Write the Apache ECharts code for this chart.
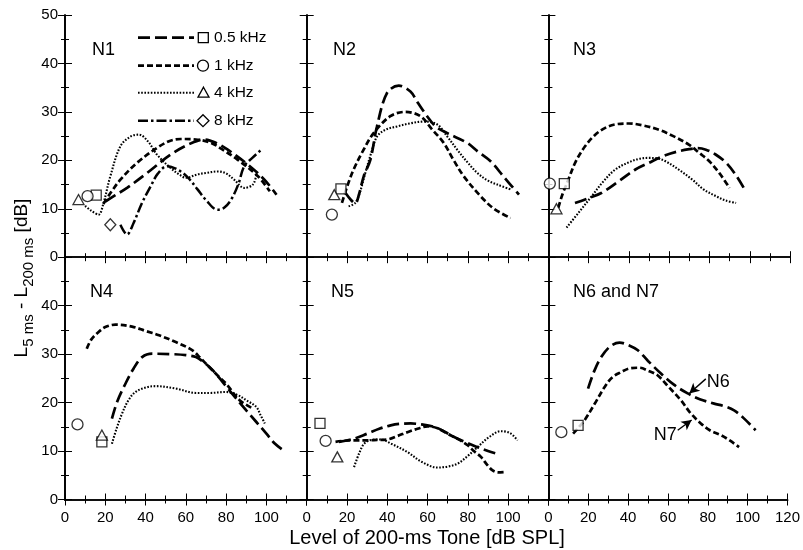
<!DOCTYPE html>
<html>
<head>
<meta charset="utf-8">
<script src="https://cdn.jsdelivr.net/npm/echarts@6/dist/echarts.min.js"></script>
<style>html,body{margin:0;padding:0;background:#fff}#c{width:803px;height:550px}</style>
</head>
<body>
<div id="c"></div>
<script>
// ---------- data ----------
const panelNames = ['N1', 'N2', 'N3', 'N4', 'N5', 'N6 and N7'];
const legendLabels = ['0.5 kHz', '1 kHz', '4 kHz', '8 kHz'];
const xTickMax = 120;
const yTickMax = 50;

// N1
const n1_05k = [[20,11.5],[25,12.8],[30.8,14.3],[40.8,17.4],[52.5,21.2],[62.5,23.5],[69,24.3],[75,23.6],[80.8,22.2],[90.8,19.1],[99,16],[105,12.9]];
const n1_1k = [[19,11],[23,13.5],[27.5,16],[35.8,19.5],[45.8,22.6],[52,24],[57.5,24.4],[65,24.3],[72.5,23.6],[79,22],[85.8,20.1],[95.8,16.7],[101.7,13.6]];
const n1_4k = [[10,10.6],[13,9.6],[16.7,8.8],[19,11],[22.5,16.7],[27.5,22.9],[32.5,24.9],[36.7,25.3],[41,24],[46,21],[52.5,18.4],[57,17],[60,16.4],[65.8,17.1],[70,17.4],[75.8,17.7],[80,17.3],[84,16],[89,14.3],[93.3,15],[95,17]];
const n1_8k = [[27.5,6.7],[30.8,4.7],[34,7],[38,11],[42.5,14.6],[46,17.2],[50.8,18.8],[57.5,17.7],[62,16],[65.8,14],[70,11.8],[75.8,9.8],[79,10.2],[82.5,11.9],[86,15],[89,18.8],[93,20.5],[97.5,22.2]];
const n1_mk05 = [[15.5,12.8]], n1_mk1 = [[11.2,12.6]], n1_mk4 = [[6.7,11.9]], n1_mk8 = [[22.5,6.7]];

// N2
const n2_05k = [[19.2,13.3],[22,11.8],[24.1,11.1],[26,13],[28.3,16.7],[31.6,20.1],[34.9,27],[39.9,33.9],[45.7,35.4],[51.5,34.2],[55,32],[59.8,29.1],[64,27],[69.8,25.6],[79.7,23.6],[85,21.8],[91.3,19.8],[98,16.5],[105.4,12.9]];
const n2_1k = [[17.5,11.2],[20,14.5],[23.3,18.1],[28,22],[33.2,25.6],[41.5,29.1],[49,30],[56.5,29.1],[62,26.5],[68,23.6],[73,20],[78,16.7],[86.3,12.6],[93,10],[101.2,8.1]];
const n2_4k = [[20.8,10.5],[24.1,11.2],[26.5,13.5],[29.1,17.4],[32,21.5],[34.9,24.9],[39,26.3],[44.9,27],[51,27.6],[58.1,28],[64.8,27.4],[70,24.8],[74.7,22.2],[80,19.5],[84.7,17.4],[90,15.8],[94.6,15],[101.2,14]];
const n2_mk05 = [[17,14.1]], n2_mk1 = [[12.5,8.8]], n2_mk4 = [[13.7,12.9]];

// N3
const n3_05k = [[13.2,11.2],[20,12.2],[26.5,13.3],[35,15.7],[43.2,18.1],[50,19.5],[56.5,20.8],[63,21.7],[69.9,22.3],[74,22.5],[78.2,22.2],[83,21.2],[88.2,19.5],[93,17],[97.4,14]];
const n3_1k = [[4.9,10.2],[7,13],[9.9,16],[13.5,19.7],[18.2,22.9],[23,25.2],[28.2,26.7],[33,27.4],[39.9,27.6],[47,27.2],[54.9,26.3],[62,25],[69.9,23.2],[75,21.5],[79.9,19.8],[85,17.3],[89.9,14.3]];
const n3_4k = [[9,6.1],[15,9.2],[21.5,12.6],[27,15.5],[33.2,18.1],[40,19.6],[45,20.3],[49.9,20.5],[54,20.4],[58.2,19.8],[65,18],[71.5,16],[77,14],[83.2,12.6],[88,11.7],[93.2,11.2]];
const n3_mk05 = [[7.9,15.2]], n3_mk1 = [[0.7,15.2]], n3_mk4 = [[4,10]];

// N4
const n4_05k = [[23.3,16.7],[26,20.3],[30,23.9],[34,27],[38.3,29.4],[43.3,30.1],[53.3,30],[60,29.8],[65,29.4],[69,28.3],[73.3,26.7],[81.7,22.5],[90,18.4],[100,13.6],[104,11.6],[108.3,10.2]];
const n4_1k = [[10.8,31.1],[13,33],[16.7,34.6],[20,35.6],[25,36.1],[33.3,35.7],[40,34.8],[46.7,33.9],[55,32.5],[63.3,30.8],[67,29.3],[71.7,27.3],[76,25.5],[80,23.9],[86.7,20.5],[93.3,18.8]];
const n4_4k = [[23.3,11.5],[25.5,14.5],[28.3,17.7],[31.5,20.5],[35,22.2],[40,23.1],[45,23.4],[55,22.9],[65,22],[72,22],[80,22.2],[86,21.5],[90,20.5],[95,19.1],[97,17.5],[99.2,15.7]];
const n4_mk05 = [[18.3,11.9]], n4_mk1 = [[6.2,15.5]], n4_mk4 = [[18.3,13.3]];

// N5
const n5_05k = [[16,11.9],[23,12.5],[30.1,13.6],[36,14.6],[41.7,15.3],[46,15.6],[51.6,15.7],[57,15.5],[63.3,15],[68,14.1],[73.2,12.9],[79,11.8],[84.8,10.8],[90,10],[95.6,9.3]];
const n5_1k = [[14.3,11.9],[18,12.1],[23.5,12.2],[30,12.2],[35,12.3],[40,12.4],[45,13.1],[50,13.9],[55,14.6],[60,15.1],[65,14.7],[69.9,13.6],[75,12.5],[79.9,11.2],[83,10],[86.5,8.8],[89.5,7.2],[92.3,6],[95,5.6],[98.9,5.7]];
const n5_4k = [[23.5,6.7],[26,9.5],[28.5,11.5],[32,12.3],[36.7,12.4],[42,11.5],[50,9.8],[57,7.8],[64.9,6.6],[70,6.8],[74.9,7.4],[80,9],[84.8,10.8],[90,12.7],[96.4,14.1],[101,13.7],[104.7,12.2]];
const n5_mk05 = [[6.6,15.7]], n5_mk1 = [[9.4,12.1]], n5_mk4 = [[15.2,8.8]];

// N6 and N7
const n6_curve = [[19.9,22.9],[23,26.5],[26.5,29.4],[31,31.6],[35.7,32.4],[40,31.9],[44.9,30.8],[50,28.6],[56.5,26],[63,23.7],[69.9,21.9],[76,20.7],[83.2,19.8],[88,19.3],[93.2,18.4],[98,16.8],[104,14.3]];
const n7_curve = [[12.4,13.6],[15,14.8],[18.2,16.4],[23,19.6],[28.2,23.2],[32,25.2],[36.5,26.3],[41,27.1],[45.7,27.2],[50,26.6],[54.9,25.6],[60,23.4],[66.5,20.5],[71,18],[76.5,15.7],[81,14.3],[86.5,13.3],[91,12.2],[95.7,10.8]];
const n67_mk05 = [[14.9,15.3]], n67_mk1 = [[6.5,13.9]];
const n6_arrow = [[79,24.9],[70.7,21.9]];
const n7_arrow = [[64.9,14.3],[71.9,16.4]];
const n6_label = [[79.5,24.2]];
const n7_label = [[52.9,13.3]];

// ---------- layout / styles ----------
const FONT = 'Liberation Sans, Arial, Helvetica, sans-serif';
const gridLefts = [65, 306.7, 548.4];
const gridTops = [15, 257.3];
const GW = 241.7, GH = 242.2;

const STY = {
  '05': {type:[12,5], width:2.7},
  '1':  {type:[6,3], width:2.7},
  '4':  {type:[1.6,1.6], width:2.1},
  '8':  {type:[10,3,2.5,3], width:2.5}
};
const SYM = {'05':'rect','1':'circle','4':'triangle','8':'diamond'};
const SYMSIZE = {'05':[10,10],'1':11,'4':[11,10],'8':[11,12]};

const grids = [], xAxes = [], yAxes = [];
const axLine = {show:true, lineStyle:{color:'#000', width:1.7}};
for (let r = 0; r < 2; r++) {
  for (let c = 0; c < 3; c++) {
    const i = r*3 + c;
    grids.push({left: gridLefts[c], top: gridTops[r], width: GW, height: GH});
    const xBase = {
      gridIndex: i, type: 'value', min: 0, max: xTickMax, interval: 20,
      axisLine: axLine,
      axisTick: {show:true, inside:true, length:6, lineStyle:{color:'#000', width:1}},
      minorTick: {show:true, splitNumber:2, length:4, lineStyle:{color:'#000', width:1}},
      splitLine: {show:false}
    };
    xAxes.push(Object.assign({}, xBase, {
      position:'bottom',
      axisLabel: {show: r === 1, color:'#000', fontSize:15, fontFamily:FONT, margin:11,
        formatter: v => (c < 2 && v === xTickMax) ? '' : String(v)}
    }));
    xAxes.push(Object.assign({}, xBase, {position:'top', axisLabel:{show:false}}));
    const yBase = {
      gridIndex: i, type: 'value', min: 0, max: yTickMax, interval: 10,
      axisLine: axLine,
      axisTick: {show:true, inside:true, length:7, lineStyle:{color:'#000', width:1}},
      minorTick: {show:true, splitNumber:2, length:4, lineStyle:{color:'#000', width:1}},
      splitLine: {show:false}
    };
    yAxes.push(Object.assign({}, yBase, {
      position:'left',
      axisLabel: {show: c === 0, color:'#000', fontSize:15, fontFamily:FONT, margin:7,
        formatter: v => (r === 1 && v === yTickMax) ? '' : String(v)}
    }));
    yAxes.push(Object.assign({}, yBase, {position:'right', axisLabel:{show:false}}));
  }
}

const series = [];
function addLine(gi, data, key, extra) {
  series.push(Object.assign({
    type:'line', xAxisIndex: gi*2, yAxisIndex: gi*2, data: data,
    smooth: 0.35, showSymbol: false, symbol:'none', silent:true,
    lineStyle: {color:'#000', width: STY[key].width, type: STY[key].type},
    z: 3
  }, extra || {}));
}
function addMark(gi, data, key) {
  series.push({
    type:'scatter', xAxisIndex: gi*2, yAxisIndex: gi*2, data: data,
    symbol: SYM[key], symbolSize: SYMSIZE[key], clip:false, silent:true,
    itemStyle: {color:'#fff', borderColor:'#000', borderWidth:1.3},
    z: 5
  });
}

addLine(0, n1_05k, '05'); addLine(0, n1_1k, '1'); addLine(0, n1_4k, '4'); addLine(0, n1_8k, '8');
addMark(0, n1_mk05, '05'); addMark(0, n1_mk1, '1'); addMark(0, n1_mk4, '4'); addMark(0, n1_mk8, '8');

addLine(1, n2_05k, '05'); addLine(1, n2_1k, '1'); addLine(1, n2_4k, '4');
addMark(1, n2_mk05, '05'); addMark(1, n2_mk1, '1'); addMark(1, n2_mk4, '4');

addLine(2, n3_05k, '05'); addLine(2, n3_1k, '1'); addLine(2, n3_4k, '4');
addMark(2, n3_mk05, '05'); addMark(2, n3_mk1, '1'); addMark(2, n3_mk4, '4');

addLine(3, n4_05k, '05'); addLine(3, n4_1k, '1'); addLine(3, n4_4k, '4');
addMark(3, n4_mk05, '05'); addMark(3, n4_mk1, '1'); addMark(3, n4_mk4, '4');

addLine(4, n5_05k, '05'); addLine(4, n5_1k, '1'); addLine(4, n5_4k, '4');
addMark(4, n5_mk05, '05'); addMark(4, n5_mk1, '1'); addMark(4, n5_mk4, '4');

const arrowLine = (pts) => [{coord: pts[0], symbol:'none'}, {coord: pts[1], symbol:'arrow', symbolSize:[8,10]}];
addLine(5, n6_curve, '05');
addLine(5, n7_curve, '1', {
  markLine: {silent:true, symbol:['none','arrow'], label:{show:false},
    lineStyle:{color:'#000', width:1.4, type:'solid', opacity:1},
    emphasis:{disabled:true},
    data: [arrowLine(n6_arrow), arrowLine(n7_arrow)]}
});
addMark(5, n67_mk05, '05'); addMark(5, n67_mk1, '1');
[[n6_label,'N6'],[n7_label,'N7']].forEach(([d, t]) => {
  series.push({type:'scatter', xAxisIndex:10, yAxisIndex:10, data:d, symbolSize:0, silent:true,
    itemStyle:{opacity:1},
    label:{show:true, position:'right', distance:0, formatter:t, color:'#000', opacity:1,
      fontSize:18, fontFamily:FONT, textBorderWidth:0}});
});

// panel labels
const graphic = [];
const labelPos = [[92,50],[333,50],[573,50],[90,292],[331,292],[573,292]];
panelNames.forEach((t, k) => {
  graphic.push({type:'text', x: labelPos[k][0], y: labelPos[k][1],
    style:{text:t, fill:'#000', font:'18px ' + FONT, verticalAlign:'middle', align:'left'}});
});

// legend
const legY = [37.7, 65.7, 92.7, 120.7];
const legKeys = ['05','1','4','8'];
legKeys.forEach((k, j) => {
  const y = legY[j];
  graphic.push({type:'line', shape:{x1:138, y1:y, x2:194, y2:y},
    style:{stroke:'#000', lineWidth: STY[k].width, lineDash: STY[k].type}});
  let shape;
  if (k === '05') shape = {type:'rect', shape:{x:198.3, y:y-5, width:10, height:10}};
  else if (k === '1') shape = {type:'circle', shape:{cx:203, cy:y, r:5.5}};
  else if (k === '4') shape = {type:'polygon', shape:{points:[[203.5,y-5.5],[209,y+4.5],[198,y+4.5]]}};
  else shape = {type:'polygon', shape:{points:[[203,y-6],[209,y],[203,y+6],[197,y]]}};
  shape.style = {fill:'#fff', stroke:'#000', lineWidth:1.3};
  graphic.push(shape);
  graphic.push({type:'text', x:214, y:y, style:{text:legendLabels[j], fill:'#000', font:'15.5px ' + FONT, verticalAlign:'middle'}});
});

// axis titles
graphic.push({type:'text', x:427, y:538,
  style:{text:'Level of 200-ms Tone [dB SPL]', fill:'#000', font:'20px ' + FONT, align:'center', verticalAlign:'middle'}});
graphic.push({type:'text', x:22, y:278, rotation: Math.PI/2,
  style:{
    text:'{m|L}{s|5 ms}{m| - L}{s|200 ms}{m| [dB]}',
    align:'center', verticalAlign:'middle',
    rich:{
      m:{fontSize:19, fontFamily:FONT, fill:'#000', lineHeight:24, verticalAlign:'middle'},
      s:{fontSize:15, fontFamily:FONT, fill:'#000', lineHeight:28, verticalAlign:'bottom'}
    }
  }});

const chart = echarts.init(document.getElementById('c'), null, {renderer:'canvas'});
chart.setOption({
  animation:false,
  backgroundColor:'#fff',
  grid: grids, xAxis: xAxes, yAxis: yAxes,
  series: series,
  graphic: graphic
});
</script>
</body>
</html>
